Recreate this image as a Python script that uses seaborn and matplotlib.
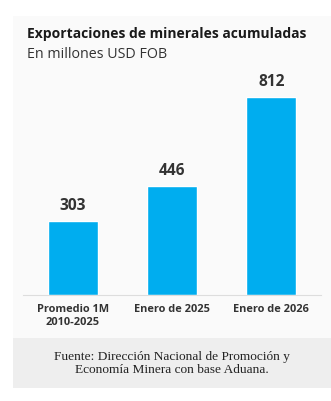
import matplotlib
matplotlib.use("Agg")
import matplotlib.pyplot as plt
from matplotlib.patches import Rectangle
import seaborn as sns
import pandas as pd

categories = ["Promedio 1M\n2010-2025", "Enero de 2025", "Enero de 2026"]
values = [303, 446, 812]
value_labels = ["303", "446", "812"]

title = "Exportaciones de minerales acumuladas"
subtitle = "En millones USD FOB"
source = "Fuente: Dirección Nacional de Promoción y\nEconomía Minera con base Aduana."

sns.set_theme(style="white")
plt.rcParams['font.family'] = ['Open Sans', 'DejaVu Sans']

W, H = 331, 402
fig = plt.figure(figsize=(W / 100, H / 100), dpi=100)
fig.patch.set_facecolor("white")

# card background
fig.patches.append(Rectangle((13 / W, 1 - 389 / H), 1 - 13 / W, (389 - 17) / H,
                             transform=fig.transFigure, facecolor="#fafafa", edgecolor="none", zorder=-10))
# footer box
fig.patches.append(Rectangle((13 / W, 1 - 389 / H), 1 - 13 / W, (389 - 339) / H,
                             transform=fig.transFigure, facecolor="#eeeeee", edgecolor="none", zorder=-9))

ax_top, ax_bot = 60, 296
ax = fig.add_axes([23 / W, 1 - ax_bot / H, (321 - 23) / W, (ax_bot - ax_top) / H])
ax.set_facecolor("none")
ax.set_zorder(1)

df = pd.DataFrame({"cat": categories, "val": values})
sns.barplot(data=df, x="cat", y="val", color="#00adef", saturation=1, width=0.5, ax=ax)
ax.set_ylim(0, 812 * (ax_bot - ax_top) / (296 - 98))
ax.set_xlim(-0.5, 2.5)

for i, (v, lab) in enumerate(zip(values, value_labels)):
    ax.annotate(lab, (i, v), xytext=(0, 6), textcoords="offset points",
                ha="center", va="bottom", fontsize=11.2, fontweight="bold", color="#333333")

ax.set_xlabel("")
ax.set_ylabel("")
ax.set_yticks([])
ax.tick_params(axis="x", length=0, pad=6)
for t in ax.get_xticklabels():
    t.set_fontsize(7.9)
    t.set_fontweight("bold")
    t.set_color("#333333")
for s in ["top", "right", "left"]:
    ax.spines[s].set_visible(False)
ax.spines["bottom"].set_color("#dddddd")
ax.spines["bottom"].set_linewidth(0.8)

fig.text(27 / W, 1 - 34 / H, title, ha="left", va="center", fontsize=10,
         fontweight="bold", color="#1a1a1a")
fig.text(27 / W, 1 - 55 / H, subtitle, ha="left", va="center", fontsize=10.3,
         color="#333333")
fig.text(172 / W, 1 - 363.5 / H, source, ha="center", va="center", fontsize=9.6,
         color="#222222", family=["Liberation Serif", "DejaVu Serif"], linespacing=1.05)

fig.savefig("out.png", dpi=100)
